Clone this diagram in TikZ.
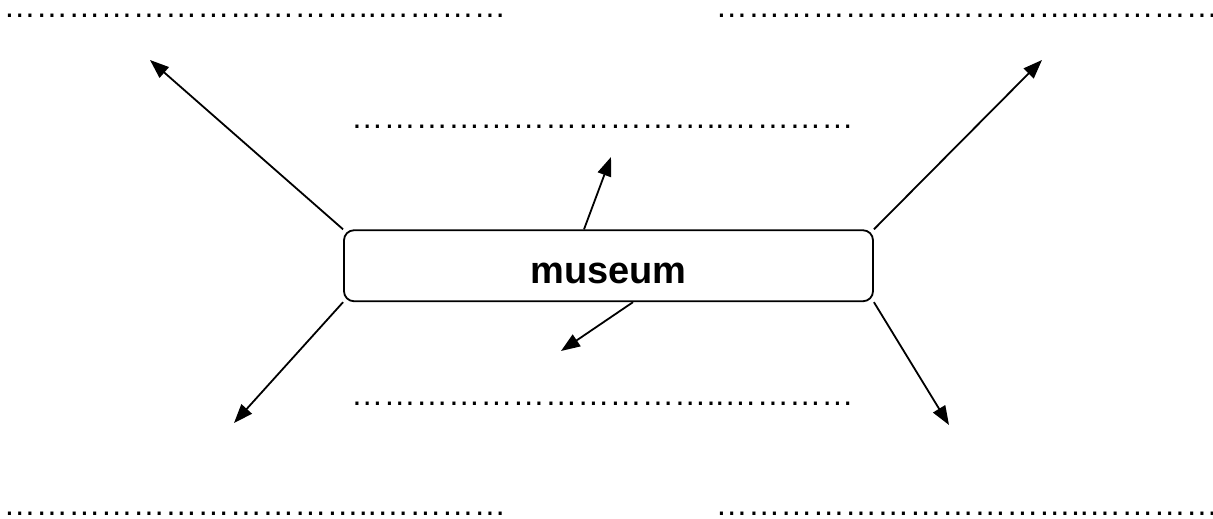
\documentclass[tikz,border=0pt]{standalone}
\usepackage{fontspec}
\setmainfont{Liberation Sans}
\usetikzlibrary{arrows.meta}
\begin{document}
\begin{tikzpicture}[x=1pt,y=-1pt,
  dotline/.style={anchor=base west, inner sep=0pt, text height=4pt, text depth=0pt,
    font=\fontsize{32.3}{36}\selectfont},
  conn/.style={line width=1.8pt, -{Triangle[length=19pt,width=14pt]}},
  mainbox/.style={draw, line width=1.8pt, rounded corners=10pt, minimum width=529pt,
    minimum height=71pt, inner sep=0pt, text height=34.5pt, text depth=0pt,
    font=\fontsize{38}{40}\selectfont\bfseries}]
\useasboundingbox (0,0) rectangle (1213,519);
\def\el{…}
\def\dl{\el\el\el\el\el\el\el\el\el\el\el..\el\el\el\el}
\node[dotline] (tl) at (3.5,17.6) {\dl};
\node[dotline] (tr) at (715.5,17.6) {\dl};
\node[dotline] (tm) at (351,128.3) {\dl};
\node[dotline] (bm) at (351,405) {\dl};
\node[dotline] (bl) at (3.5,515) {\dl};
\node[dotline] (br) at (715.5,515) {\dl};
\node[mainbox] (box) at (608.5,265.75) {museum};
\coordinate (e1) at (150,60);
\coordinate (e2) at (611,157);
\coordinate (e3) at (1042,60);
\coordinate (e4) at (234,423);
\coordinate (e5) at (561,351);
\coordinate (e6) at (949,425);
\draw[conn] (box.north west) -- (e1);
\draw[conn] ([xshift=-24.5pt]box.north) -- (e2);
\draw[conn] (box.north east) -- (e3);
\draw[conn] (box.south west) -- (e4);
\draw[conn] ([xshift=24.5pt]box.south) -- (e5);
\draw[conn] (box.south east) -- (e6);
\end{tikzpicture}
\end{document}
